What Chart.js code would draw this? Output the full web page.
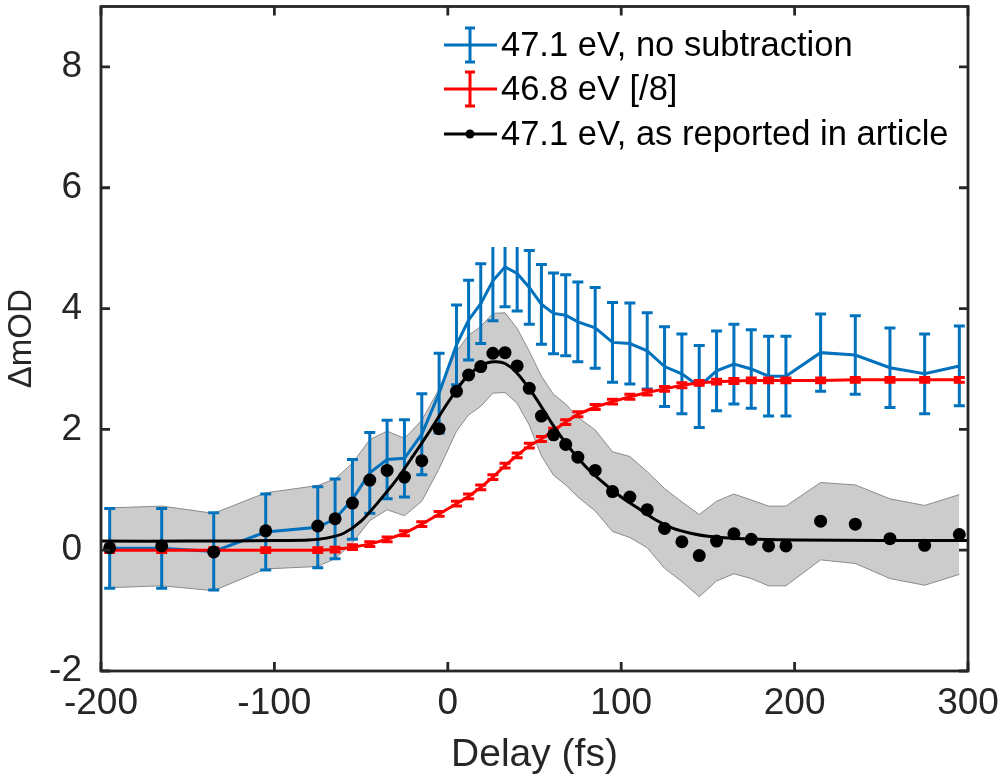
<!DOCTYPE html>
<html>
<head>
<meta charset="utf-8">
<script src="https://cdn.jsdelivr.net/npm/chart.js@4.4.1/dist/chart.umd.min.js"></script>
<style>
  html, body { margin: 0; padding: 0; background: #fff; }
  #wrap { width: 1003px; height: 783px; }
</style>
</head>
<body>
<div id="wrap"><canvas id="delayChart"></canvas></div>
<script>
// delay points (fs), shared by all three measured series
const delays = [-195, -165, -135, -105, -75, -65, -55, -45, -35, -25, -15, -5, 5, 12, 19, 26, 33, 40, 47, 54,
  61, 68, 75, 85, 95, 105, 115, 125, 135, 145, 155, 165, 175, 185, 195, 215, 235, 255, 275, 295];

// 47.1 eV, no subtraction
const blueY = [0.03, 0.03, -0.02, 0.30, 0.38, 0.52, 0.84, 1.28, 1.50, 1.52, 1.92, 2.60, 3.40, 3.81, 4.08, 4.46, 4.69, 4.58, 4.35, 4.07,
  3.92, 3.89, 3.78, 3.68, 3.44, 3.42, 3.30, 3.04, 2.92, 2.71, 2.97, 3.08, 3.00, 2.88, 2.88, 3.27, 3.23, 3.02, 2.92, 3.05];
const blueErr = [0.66, 0.66, 0.64, 0.63, 0.67, 0.66, 0.66, 0.67, 0.65, 0.64, 0.67, 0.66, 0.66, 0.66, 0.66, 0.66, 0.66, 0.62, 0.61, 0.66,
  0.67, 0.67, 0.66, 0.67, 0.66, 0.67, 0.63, 0.66, 0.66, 0.68, 0.66, 0.66, 0.65, 0.66, 0.66, 0.64, 0.65, 0.66, 0.66, 0.66];
// the blue bars are cut off at this level in the original figure
const blueBarCut = 5.02;

// 46.8 eV [/8]
const redY = [0.00, 0.00, 0.00, 0.00, 0.00, 0.01, 0.05, 0.10, 0.18, 0.28, 0.43, 0.60, 0.77, 0.89, 1.04, 1.21, 1.40, 1.57, 1.73, 1.84,
  1.98, 2.12, 2.25, 2.37, 2.46, 2.54, 2.61, 2.67, 2.73, 2.77, 2.79, 2.80, 2.81, 2.81, 2.81, 2.81, 2.82, 2.82, 2.82, 2.82];
const redErr = [0.04, 0.04, 0.04, 0.04, 0.04, 0.04, 0.04, 0.04, 0.04, 0.04, 0.04, 0.04, 0.04, 0.04, 0.04, 0.04, 0.04, 0.04, 0.04, 0.04,
  0.04, 0.04, 0.04, 0.04, 0.04, 0.04, 0.04, 0.04, 0.04, 0.04, 0.04, 0.04, 0.04, 0.04, 0.04, 0.04, 0.04, 0.04, 0.04, 0.04];

// 47.1 eV, as reported in article (dots); grey band uses the same errors as the blue series
const articleY = [0.04, 0.07, -0.03, 0.32, 0.40, 0.52, 0.78, 1.16, 1.32, 1.21, 1.48, 2.01, 2.63, 2.90, 3.04, 3.26, 3.27, 3.05, 2.68, 2.22,
  1.91, 1.75, 1.54, 1.32, 0.97, 0.88, 0.67, 0.36, 0.14, -0.09, 0.15, 0.27, 0.18, 0.07, 0.07, 0.48, 0.43, 0.19, 0.08, 0.26];

// fitted curve through the article data
const fitX = [-200, -150, -100, -80, -70, -60, -50, -40, -30, -20, -10, 0, 10, 20, 27, 33, 40, 50, 60, 70,
  80, 90, 100, 110, 120, 130, 140, 150, 170, 200, 250, 300];
const fitY = [0.15, 0.15, 0.16, 0.17, 0.20, 0.28, 0.48, 0.80, 1.15, 1.56, 1.99, 2.44, 2.84, 3.07, 3.12, 3.09, 2.93, 2.55, 2.10, 1.70,
  1.37, 1.11, 0.88, 0.69, 0.50, 0.36, 0.28, 0.23, 0.19, 0.17, 0.16, 0.16];

const xTicks = [-200, -100, 0, 100, 200, 300];
const yTicks = [-2, 0, 2, 4, 6, 8];
const legendLabels = ['47.1 eV, no subtraction', '46.8 eV [/8]', '47.1 eV, as reported in article'];

const BLUE = '#0072BD';
const RED = '#FF0000';
const AXIS = '#262626';
const FONT = "'Liberation Sans', Arial, sans-serif";

Chart.defaults.font.family = FONT;
Chart.defaults.color = AXIS;

const pts = (xs, ys) => xs.map((x, i) => ({ x: x, y: ys[i] }));

// error bars drawn right after their own dataset
const errorBars = {
  id: 'errorBars',
  afterDatasetDraw(chart, args) {
    const ds = chart.data.datasets[args.index];
    if (!ds.errors) return;
    const { ctx, chartArea: a, scales: { x, y } } = chart;
    ctx.save();
    ctx.beginPath();
    ctx.rect(a.left, a.top, a.right - a.left, a.bottom - a.top);
    ctx.clip();
    ctx.strokeStyle = ds.borderColor;
    ctx.lineWidth = 3;
    ctx.lineCap = 'butt';
    const half = 5.5;
    ds.data.forEach((p, i) => {
      const e = ds.errors[i];
      let hi = p.y + e;
      let capTop = true;
      if (ds.cut !== undefined && hi > ds.cut) { hi = ds.cut; capTop = false; }
      const px = x.getPixelForValue(p.x);
      const pTop = y.getPixelForValue(hi);
      const pBot = y.getPixelForValue(p.y - e);
      ctx.beginPath();
      ctx.moveTo(px, pTop);
      ctx.lineTo(px, pBot);
      if (capTop) { ctx.moveTo(px - half, pTop); ctx.lineTo(px + half, pTop); }
      ctx.moveTo(px - half, pBot);
      ctx.lineTo(px + half, pBot);
      ctx.stroke();
    });
    ctx.restore();
  }
};

// box with inward ticks, plus the legend
const frameAndLegend = {
  id: 'frameAndLegend',
  afterDraw(chart) {
    const { ctx, chartArea: a, scales: { x, y } } = chart;
    ctx.save();
    ctx.strokeStyle = AXIS;
    ctx.lineWidth = 2.8;
    ctx.beginPath();
    xTicks.forEach(v => {
      const px = x.getPixelForValue(v);
      ctx.moveTo(px, a.bottom); ctx.lineTo(px, a.bottom - 9);
      ctx.moveTo(px, a.top); ctx.lineTo(px, a.top + 9);
    });
    yTicks.forEach(v => {
      const py = y.getPixelForValue(v);
      ctx.moveTo(a.left, py); ctx.lineTo(a.left + 9, py);
      ctx.moveTo(a.right, py); ctx.lineTo(a.right - 9, py);
    });
    ctx.stroke();
    ctx.strokeRect(a.left, a.top, a.right - a.left, a.bottom - a.top);

    // legend
    const rows = [45, 89, 134];
    const colors = [BLUE, RED, '#000000'];
    const x0 = 444, x1 = 497, xm = 470;
    ctx.lineWidth = 3;
    rows.forEach((ry, i) => {
      ctx.strokeStyle = colors[i];
      ctx.beginPath();
      ctx.moveTo(x0, ry); ctx.lineTo(x1, ry);
      if (i < 2) {
        ctx.moveTo(xm, ry - 17); ctx.lineTo(xm, ry + 17);
        ctx.moveTo(xm - 5, ry - 17); ctx.lineTo(xm + 5, ry - 17);
        ctx.moveTo(xm - 5, ry + 17); ctx.lineTo(xm + 5, ry + 17);
      }
      ctx.stroke();
      if (i === 2) {
        ctx.fillStyle = '#000';
        ctx.beginPath();
        ctx.arc(xm, ry, 4.5, 0, Math.PI * 2);
        ctx.fill();
      }
      ctx.fillStyle = '#000';
      ctx.font = '34.5px ' + FONT;
      ctx.textAlign = 'left';
      ctx.textBaseline = 'middle';
      ctx.fillText(legendLabels[i], 501, ry + 1);
    });
    ctx.restore();
  }
};

const ctxEl = document.getElementById('delayChart');
new Chart(ctxEl, {
  type: 'scatter',
  data: {
    datasets: [
      {
        label: 'band upper',
        data: pts(delays, articleY.map((v, i) => v + blueErr[i])),
        showLine: true,
        borderColor: '#8a8a8a',
        borderWidth: 1,
        backgroundColor: '#cccccc',
        pointRadius: 0,
        fill: '+1',
        tension: 0,
        order: 6
      },
      {
        label: 'band lower',
        data: pts(delays, articleY.map((v, i) => v - blueErr[i])),
        showLine: true,
        borderColor: '#8a8a8a',
        borderWidth: 1,
        pointRadius: 0,
        fill: false,
        tension: 0,
        order: 5
      },
      {
        label: legendLabels[0],
        data: pts(delays, blueY),
        errors: blueErr,
        cut: blueBarCut,
        showLine: true,
        borderColor: BLUE,
        borderWidth: 3,
        pointRadius: 0,
        tension: 0,
        order: 4
      },
      {
        label: legendLabels[1],
        data: pts(delays, redY),
        errors: redErr,
        showLine: true,
        borderColor: RED,
        borderWidth: 3,
        pointRadius: 0,
        tension: 0,
        order: 3
      },
      {
        label: 'fit',
        data: pts(fitX, fitY),
        showLine: true,
        borderColor: '#000000',
        borderWidth: 3,
        pointRadius: 0,
        tension: 0.3,
        order: 2
      },
      {
        label: legendLabels[2],
        data: pts(delays, articleY),
        showLine: false,
        backgroundColor: '#000000',
        borderColor: '#000000',
        pointRadius: 6.5,
        pointBorderWidth: 0,
        order: 1
      }
    ]
  },
  options: {
    responsive: true,
    maintainAspectRatio: false,
    animation: false,
    layout: { padding: { left: 0, right: 35, top: 5, bottom: 0 } },
    plugins: {
      legend: { display: false },
      tooltip: { enabled: false }
    },
    scales: {
      x: {
        type: 'linear',
        min: -200,
        max: 300,
        afterBuildTicks: s => { s.ticks = xTicks.map(v => ({ value: v })); },
        afterFit: s => { s.height = 112; s.paddingLeft = 0; s.paddingRight = 0; },
        grid: { display: false, drawTicks: false },
        border: { display: false },
        ticks: { font: { size: 37 }, color: AXIS, padding: 11, maxRotation: 0 },
        title: { display: true, text: 'Delay (fs)', font: { size: 39 }, color: AXIS, padding: { top: 0, bottom: 4 } }
      },
      y: {
        type: 'linear',
        min: -2,
        max: 9,
        afterBuildTicks: s => { s.ticks = yTicks.map(v => ({ value: v })); },
        afterFit: s => { s.width = 101; s.paddingTop = 0; s.paddingBottom = 0; },
        grid: { display: false, drawTicks: false },
        border: { display: false },
        ticks: { font: { size: 37 }, color: AXIS, padding: 19 },
        title: { display: true, text: 'ΔmOD', font: { size: 33 }, color: AXIS, padding: { top: 2, bottom: 0 } }
      }
    }
  },
  plugins: [errorBars, frameAndLegend]
});
</script>
</body>
</html>
